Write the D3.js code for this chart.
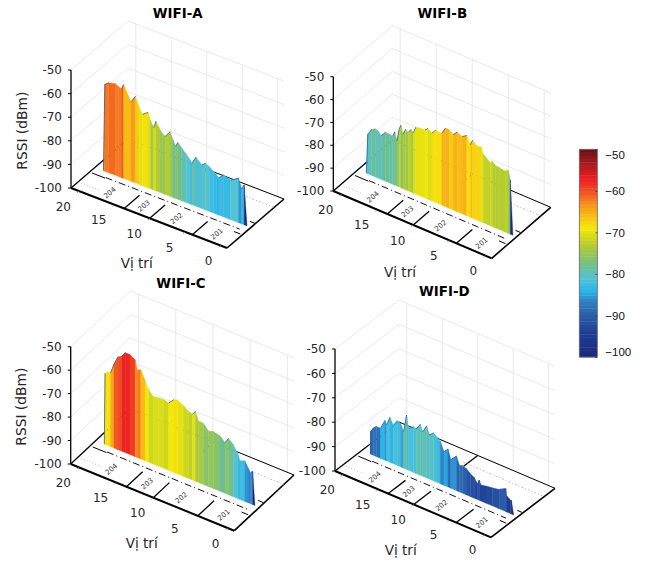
<!DOCTYPE html>
<html>
<head>
<meta charset="utf-8">
<script src="https://cdn.jsdelivr.net/npm/d3@7"></script>
<style>
html, body { margin: 0; padding: 0; background: #fff; }
svg { display: block; }
text { font-family: "DejaVu Sans", sans-serif; fill: #262626; }
</style>
</head>
<body>
<svg class="chart" width="645" height="563"></svg>
<script>
const rssiTicks = [-50, -60, -70, -80, -90, -100];
const posTicks = [20, 15, 10, 5, 0];

// rooms drawn on the floor
const roomNames = ["204", "203", "202", "201"];
const roomPos = [16.8, 12, 7.4, 1.7];
const wallPos = [13.6, 10, 4];
const backWallPos = [10];

// colormap of the colorbar
const cmapValues = [-50, -53, -57, -60, -64, -69, -73, -78, -81, -84, -86.5, -90, -94, -100];
const cmapColors = ["#6a1012", "#a01a1e", "#ed1c24", "#f04e23", "#f9a01b", "#f5e90a", "#b5cc2e", "#6fbe8c", "#52c2d6", "#2bb6ea", "#2f80c3", "#2a5da8", "#1e3f96", "#1b2878"];

const posA = [19.9, 19.7, 19.15, 18.2, 17.75, 17.35, 17.05, 16, 15.4, 14.9, 14.4, 13.6, 13.25, 12.8, 12.5, 12, 11.6, 11.2, 10.5, 10.1, 9.7, 9.4, 8.9, 8.2, 7.75, 7.4, 6.85, 6, 5.5, 4.95, 4.4, 3.95, 3.6, 3, 2, 0.85, 0.4, 0.05, -0.35];
const rssiA = [-100, -63.2, -61.9, -61.2, -61.9, -62.4, -60.2, -66.3, -63.3, -67, -69.8, -68, -71, -73.7, -70.5, -73, -74.5, -75.4, -72.7, -75.5, -77.9, -75.9, -77.5, -79.5, -81, -82.4, -79.2, -81.5, -80.2, -81, -82.3, -83.3, -84.3, -82.2, -83.3, -81.2, -85.2, -83.1, -100];

const posB = [19.95, 19.75, 19.2, 18.7, 18.2, 17.9, 17.3, 16.7, 16.3, 16, 15.7, 15.4, 15.15, 14.85, 14.5, 14.15, 13.75, 13.4, 13.1, 12.5, 11.8, 11.4, 10.85, 10.3, 9.5, 8.95, 8.4, 7.9, 7.35, 6.65, 6, 5.5, 5.2, 4.6, 4, 3.7, 2.75, 2.45, 2, 1.4, 0.7, 0.25, -0.05, -0.4];
const rssiB = [-100, -82.7, -79.9, -78.9, -79.6, -81, -78.6, -78.7, -79, -76.7, -80.3, -74.8, -72.6, -76.2, -73.6, -74.5, -72.6, -73.5, -70.8, -70.3, -70.3, -69, -70.4, -68.2, -68.7, -65.6, -65.6, -67.1, -65.2, -66.2, -64.9, -68.2, -65.9, -67.6, -67.2, -70, -72.4, -71.4, -72.7, -72.9, -73.3, -72.3, -76.2, -100];

const posC = [19.95, 19.85, 19.55, 19.1, 18.65, 18.1, 17.6, 17.15, 16.5, 15.8, 15.5, 15.05, 14.4, 13.95, 13.4, 12.7, 11.95, 11.3, 10.6, 10.1, 9.3, 8.6, 8.1, 7.7, 7.3, 6.6, 5.95, 5.3, 4.4, 3.7, 3.25, 2.6, 2, 1.7, 1.05, 0.6, 0.25, 0, -0.3];
const rssiC = [-100, -69.7, -68.6, -68.5, -64.2, -60.4, -59.5, -57.4, -57.4, -58.7, -62.8, -61.9, -66.3, -69.3, -71.2, -70.9, -70.7, -71.3, -69, -68.5, -69.9, -71.4, -71.9, -70.3, -73.7, -74, -76.3, -75.7, -76.4, -78.4, -76, -77.8, -81, -83.5, -82.7, -85.2, -87, -85.8, -100];

const posD = [19.9, 19.85, 19.5, 19.05, 18.45, 17.85, 17.6, 17.15, 16.65, 16.1, 15.65, 15.2, 14.8, 14.5, 13.8, 13.45, 12.85, 12.5, 11.95, 11.55, 11, 10.5, 10.05, 9.5, 8.95, 8.55, 7.75, 7.35, 6.9, 6.4, 5.75, 5.25, 4.8, 4.55, 4.3, 3.6, 2.7, 1.75, 0.8, 0.7, 0.1, 0, -0.3];
const rssiD = [-100, -90.7, -88.9, -87.7, -87.6, -83.7, -85.2, -81.6, -84.2, -81.7, -82.1, -85, -77.7, -82.8, -81.3, -81.8, -79.1, -81.7, -78.6, -82, -80.3, -81.4, -82.5, -86.2, -84.4, -88.3, -85.8, -89.1, -88.7, -89.2, -90.7, -91.5, -93.6, -91.7, -93.4, -93, -92.6, -92.1, -90.6, -93.3, -94.5, -94.5, -100];

const svg = d3.select(".chart");

const colorLine = d3.scaleLinear().domain(cmapValues).range(cmapColors).interpolate(d3.interpolateRgb);
// the colormap has 64 flat steps
const color = d3.scaleQuantize().domain([-100, -50]).range(d3.range(64).map(i => colorLine(-100 + (i + 0.5) * 50 / 64)));

// corners of each 3d box as they land on the page: floor left, floor front, floor right, top of z axis
const panels = [
    { title: "WIFI-A", pos: posA, rssi: rssiA, left: [71, 188], front: [227, 248], right: [284, 199], top: 70, titleAt: [177.7, 17.5], labelAt: [136.7, 267.5], yLabelAt: [21.7, 130.7] },
    { title: "WIFI-B", pos: posB, rssi: rssiB, left: [333.3, 191], front: [491.7, 258.3], right: [550.7, 207.3], top: 76.7, titleAt: [442.3, 18], labelAt: [400, 276.5] },
    { title: "WIFI-C", pos: posC, rssi: rssiC, left: [70.7, 464], front: [234.3, 530.7], right: [294, 475], top: 346.7, titleAt: [181, 288], labelAt: [141.7, 547.5], yLabelAt: [20.7, 406.7] },
    { title: "WIFI-D", pos: posD, rssi: rssiD, left: [335, 471], front: [491, 537.3], right: [555, 488.3], top: 349, titleAt: [444.3, 295.7], labelAt: [400.7, 554.8] }
];

const wallDepth = 0.42;

panels.forEach(p => {
    const g = svg.append("g");
    const ex = [p.front[0] - p.left[0], p.front[1] - p.left[1]];
    const ey = [p.right[0] - p.front[0], p.right[1] - p.front[1]];

    const xs = d3.scaleLinear().domain([21.1, -0.9]).range([0, 1]);
    const zs = d3.scaleLinear().domain([-100, -50]).range([p.left[1], p.top]);

    // position, depth (0 front, 1 back), rssi -> page
    const project = (x, d, z) => {
        const a = xs(x);
        return [p.left[0] + a * ex[0] + d * ey[0], zs(z) + a * ex[1] + d * ey[1]];
    };
    const x0 = xs.domain()[0], x1 = xs.domain()[1];
    const line = d3.line();

    // grid on the two back walls
    const grid = g.append("g").attr("fill", "none").attr("stroke", "#e3e3e3").attr("stroke-width", 0.8);
    rssiTicks.forEach(z => {
        grid.append("path").attr("d", line([project(x0, 0, z), project(x0, 1, z), project(x1, 1, z)]));
    });
    posTicks.forEach(x => {
        grid.append("path").attr("d", line([project(x, 1, -100), project(x, 1, -50)]));
    });

    // floor
    g.append("path")
        .attr("d", line([project(x0, 0, -100), project(x1, 0, -100), project(x1, 1, -100), project(x0, 1, -100)]) + "Z")
        .attr("fill", "#fff").attr("stroke", "none");

    const edge = (a, b, w) => g.append("path").attr("d", line([a, b])).attr("stroke", "#000").attr("stroke-width", w).attr("fill", "none");
    edge(project(x0, 1, -100), project(x1, 1, -100), 1);
    edge(project(x0, 0, -100), project(x0, 1, -100), 1.3);
    edge(project(x1, 0, -100), project(x1, 1, -100), 1.6);
    edge(project(x0, 0, -100), project(x1, 0, -100), 2);

    // room plan
    wallPos.forEach(x => edge(project(x, 0, -100), project(x, 0.27, -100), 1.3));
    backWallPos.forEach(x => edge(project(x, 0.78, -100), project(x, 1, -100), 1.3));
    edge(project(20.75, 0.325, -100), project(18.9, 0.325, -100), 1);
    edge(project(0.3, 0.27, -100), project(-0.6, 0.27, -100), 1);
    edge(project(-0.1, 0.5, -100), project(-0.8, 0.5, -100), 1);
    g.append("path").attr("d", line([project(18.9, 0.335, -100), project(0, 0.335, -100)]))
        .attr("stroke", "#111").attr("stroke-width", 1).attr("stroke-dasharray", "7 3 1 3").attr("fill", "none");
    g.append("path").attr("d", line([project(20.7, 0.125, -100), project(18, 0.125, -100)]))
        .attr("stroke", "#7fd4ec").attr("stroke-width", 1).attr("stroke-dasharray", "1 2").attr("fill", "none");
    g.append("path").attr("d", line([project(10.5, 0.83, -100), project(x1, 0.83, -100)]))
        .attr("stroke", "#aaa").attr("stroke-width", 0.8).attr("stroke-dasharray", "2 2 1 2").attr("fill", "none");

    roomNames.forEach((name, i) => {
        const q = project(roomPos[i], 0.145, -100);
        g.append("text")
            .attr("transform", `translate(${q[0]},${q[1]}) rotate(-40)`)
            .attr("text-anchor", "middle").attr("dy", "0.35em")
            .attr("font-size", 7).style("fill", "#333")
            .text(name);
    });

    // the surface, one flat coloured strip per sample step
    const pts = p.pos.map((x, i) => ({ x: x, z: p.rssi[i] }));
    const strips = d3.pairs(pts);
    g.append("g").selectAll("path").data(strips).enter().append("path")
        .attr("d", d => line([
            project(d[0].x, wallDepth, -100), project(d[0].x, wallDepth, d[0].z),
            project(d[1].x, wallDepth, d[1].z), project(d[1].x, wallDepth, -100)
        ]) + "Z")
        .attr("fill", d => color(d[1].z))
        .attr("stroke", d => color(d[1].z))
        .attr("stroke-width", 0.4);
    // rising edges show the dark back of the surface
    g.append("g").selectAll("path").data(strips.filter(d => d[1].z - d[0].z > 1.2)).enter().append("path")
        .attr("d", d => line([project(d[0].x, wallDepth, d[0].z), project(d[1].x, wallDepth, d[1].z)]))
        .attr("stroke", "#2c4a9e").attr("stroke-width", 0.7).attr("fill", "none");

    // z axis
    edge(project(x0, 0, -100), project(x0, 0, -50), 1.3);
    rssiTicks.forEach(z => {
        const q = project(x0, 0, z);
        edge([q[0] - 3, q[1]], q, 1);
        g.append("text").attr("x", q[0] - 9).attr("y", q[1]).attr("dy", "0.35em")
            .attr("text-anchor", "end").attr("font-size", 12).text(z);
    });

    // position axis
    posTicks.forEach(x => {
        const q = project(x, 0, -100);
        g.append("path").attr("d", line([q, [q[0] - 2, q[1] + 2]])).attr("stroke", "#888").attr("stroke-width", 0.8);
        g.append("text").attr("x", q[0] - (x === 0 ? 12 : 15.5)).attr("y", q[1] + 15.5).attr("dy", "0.35em")
            .attr("text-anchor", "middle").attr("font-size", 12).text(x);
    });

    g.append("text").attr("x", p.titleAt[0]).attr("y", p.titleAt[1])
        .attr("text-anchor", "middle").attr("font-size", 13.4).attr("font-weight", "bold").style("fill", "#000")
        .text(p.title);
    g.append("text").attr("x", p.labelAt[0]).attr("y", p.labelAt[1])
        .attr("text-anchor", "middle").attr("font-size", 13.6).text("Vị trí");
    if (p.yLabelAt) {
        g.append("text").attr("transform", `translate(${p.yLabelAt[0]},${p.yLabelAt[1]}) rotate(-90)`)
            .attr("text-anchor", "middle").attr("dy", "0.35em").attr("font-size", 13.8).text("RSSI (dBm)");
    }
});

// colorbar
const barY = d3.scaleLinear().domain([-50, -100]).range([149.3, 357]);
const bar = svg.append("g").attr("transform", "translate(579.3,0)");
const barW = 18;
bar.selectAll("rect").data(color.range()).enter().append("rect")
    .attr("x", 0).attr("width", barW)
    .attr("y", d => barY(color.invertExtent(d)[1]))
    .attr("height", d => barY(color.invertExtent(d)[0]) - barY(color.invertExtent(d)[1]) + 0.4)
    .attr("fill", d => d);
bar.append("rect").attr("width", barW).attr("y", barY(-50)).attr("height", barY(-100) - barY(-50))
    .attr("fill", "none").attr("stroke", "#666").attr("stroke-width", 0.8);

const barAxis = d3.axisRight(barY).tickValues(rssiTicks).tickSize(0).tickPadding(8);
const barG = svg.append("g").attr("transform", `translate(${579.3 + barW},0)`).call(barAxis);
barG.select(".domain").remove();
barG.selectAll(".tick").append("line").attr("x1", -2).attr("x2", 0).attr("stroke", "#333").attr("stroke-width", 0.7);
barG.selectAll("text")
    .style("font-family", "'Liberation Sans', sans-serif").style("font-size", "11.5px").style("fill", "#111")
    .attr("y", d => d === -50 ? 6 : d === -100 ? -5 : 0);
</script>
</body>
</html>
